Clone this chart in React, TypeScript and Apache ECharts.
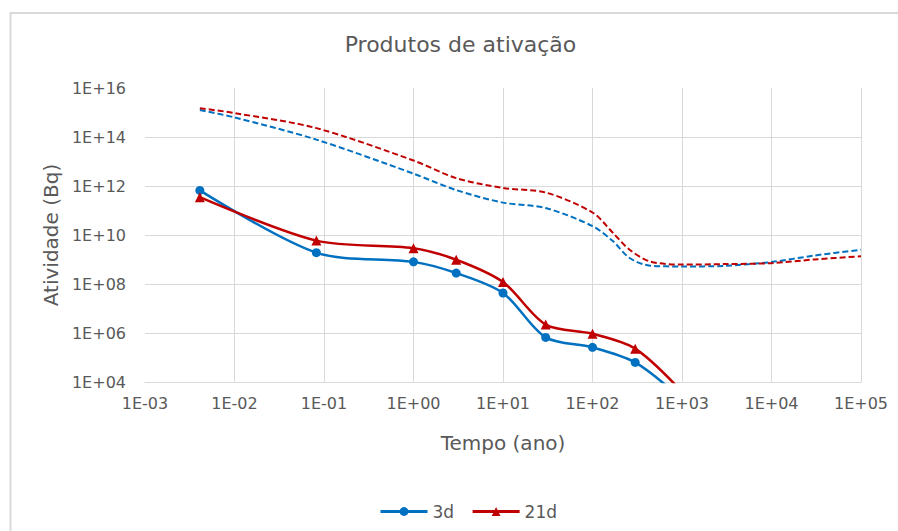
import React, { useEffect, useRef } from "react";
import * as echarts from "echarts";

// Time (years) for the marked series
const timeSolid = [0.0041, 0.0822, 1, 3, 10, 30, 100, 300, 1000];
const activity3d = [6.6e11, 1.9e9, 8e8, 2.8e8, 4.3e7, 6.6e5, 2.6e5, 6.3e4, 2e3];
const activity21d = [3.5e11, 5.9e9, 2.9e9, 9.8e8, 1.2e8, 2.2e6, 9.3e5, 2.3e5, 4e3];

// Time (years) for the dashed series
const timeDashed = [0.0041, 0.01, 0.0822, 1, 3, 10, 30, 100, 170, 260, 440, 1000, 3000, 10000, 30000, 100000];
const activity3dDashed = [1.26e15, 6.3e14, 7.8e13, 3.2e12, 6.8e11, 2.1e11, 1.26e11, 2.3e10, 5.5e9, 1.15e9, 5.6e8, 5.2e8, 5.5e8, 7.9e8, 1.45e9, 2.5e9];
const activity21dDashed = [1.5e15, 9.5e14, 2.3e14, 1.1e13, 2.1e12, 8.3e11, 5.4e11, 8.3e10, 1.2e10, 2.5e9, 8.3e8, 6.2e8, 6.5e8, 7.1e8, 1.0e9, 1.35e9];

const legendNames = ["3d", "21d"];
const titleText = "Produtos de ativação";
const xName = "Tempo (ano)";
const yName = "Atividade (Bq)";

const BLUE = "#0070C0";
const RED = "#C00000";
const TEXT = "#595959";
const GRID = "#d9d9d9";
const FONT = "DejaVu Sans";

const fmtExp = (v: number) => {
  const e = Math.round(Math.log10(v));
  return "1E" + (e < 0 ? "-" : "+") + String(Math.abs(e)).padStart(2, "0");
};

const zip = (xs: number[], ys: number[]) => xs.map((x, i) => [x, ys[i]]);

export default function App() {
  const ref = useRef<HTMLDivElement>(null);
  useEffect(() => {
    if (!ref.current) return;
    const chart = echarts.init(ref.current, undefined, { renderer: "svg" });
    chart.setOption({
      animation: false,
      backgroundColor: "#ffffff",
      graphic: [
        {
          type: "rect",
          shape: { x: 10.5, y: 13, width: 900, height: 530 },
          style: { fill: "none", stroke: GRID, lineWidth: 2 },
          silent: true,
        },
        {
          type: "text",
          x: 460.5,
          y: 33,
          style: {
            text: titleText,
            fontFamily: FONT,
            fontSize: 22,
            fill: TEXT,
            textAlign: "center",
            textVerticalAlign: "top",
          },
        },
      ],
      legend: {
        data: legendNames,
        left: 374,
        top: 498,
        itemWidth: 47,
        itemHeight: 11,
        itemGap: 17,
        lineStyle: { width: 3 },
        textStyle: { fontFamily: FONT, fontSize: 17, color: TEXT },
      },
      grid: { left: 145, right: 37, top: 88, bottom: 149, containLabel: false },
      xAxis: {
        type: "log",
        logBase: 10,
        min: 0.001,
        max: 100000,
        interval: 1,
        name: xName,
        nameLocation: "middle",
        nameGap: 51,
        nameTextStyle: { fontFamily: FONT, fontSize: 20, color: TEXT },
        axisLine: { show: true, lineStyle: { color: GRID, width: 1 } },
        axisTick: { show: false },
        axisLabel: {
          formatter: fmtExp,
          fontFamily: FONT,
          fontSize: 16,
          color: TEXT,
          margin: 13,
        },
        splitLine: { show: true, showMinLine: false, lineStyle: { color: GRID, width: 1 } },
        minorTick: { show: false },
        minorSplitLine: { show: false },
      },
      yAxis: {
        type: "log",
        logBase: 10,
        min: 1e4,
        max: 1e16,
        interval: 2,
        name: yName,
        nameLocation: "middle",
        nameGap: 78,
        nameRotate: 90,
        nameTextStyle: { fontFamily: FONT, fontSize: 20, color: TEXT },
        axisLine: { show: false },
        axisTick: { show: false },
        axisLabel: {
          formatter: fmtExp,
          fontFamily: FONT,
          fontSize: 16,
          color: TEXT,
          margin: 19,
        },
        splitLine: { show: true, showMaxLine: false, lineStyle: { color: GRID, width: 1 } },
      },
      series: [
        {
          name: "3d total",
          type: "line",
          data: zip(timeDashed, activity3dDashed),
          showSymbol: false,
          symbol: "none",
          smooth: 0.3,
          lineStyle: { color: BLUE, width: 2, type: [6, 3] },
          itemStyle: { color: BLUE },
          z: 2,
        },
        {
          name: "21d total",
          type: "line",
          data: zip(timeDashed, activity21dDashed),
          showSymbol: false,
          symbol: "none",
          smooth: 0.3,
          lineStyle: { color: RED, width: 2, type: [6, 3] },
          itemStyle: { color: RED },
          z: 2,
        },
        {
          name: "3d",
          type: "line",
          data: zip(timeSolid, activity3d),
          symbol: "circle",
          symbolSize: 9,
          smooth: 0.3,
          clip: true,
          lineStyle: { color: BLUE, width: 2.5 },
          itemStyle: { color: BLUE },
          z: 3,
        },
        {
          name: "21d",
          type: "line",
          data: zip(timeSolid, activity21d),
          symbol: "triangle",
          symbolSize: 10,
          smooth: 0.3,
          clip: true,
          lineStyle: { color: RED, width: 2.5 },
          itemStyle: { color: RED },
          z: 3,
        },
      ],
    });
    return () => chart.dispose();
  }, []);
  return (
    <div
      ref={ref}
      style={{ position: "absolute", left: 0, top: 0, width: 898, height: 531 }}
    />
  );
}
